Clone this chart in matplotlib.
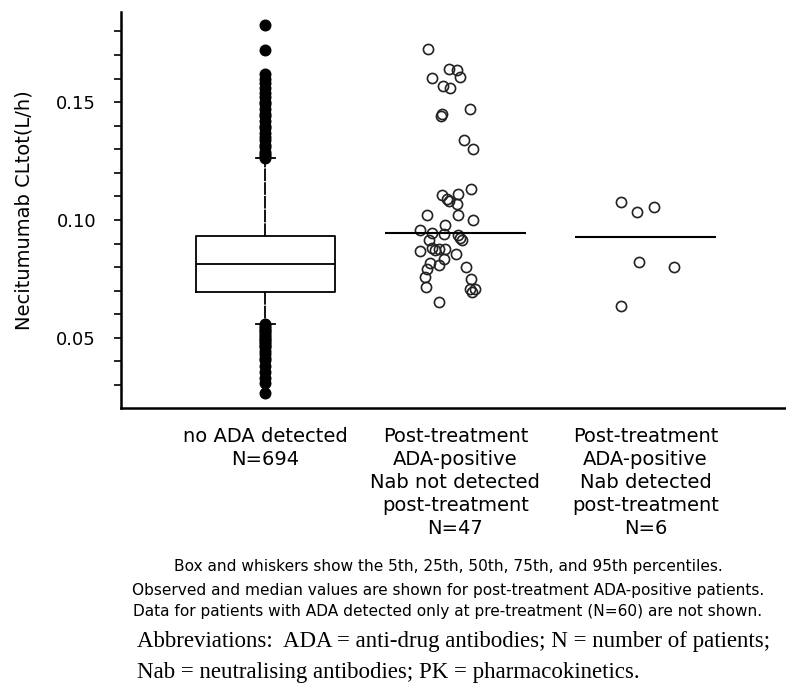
import numpy as np
import matplotlib
matplotlib.use("Agg")
import matplotlib.pyplot as plt
from matplotlib.ticker import FixedLocator

# group labels
categories = ["no ADA detected\nN=694",
              "Post-treatment\nADA-positive\nNab not detected\npost-treatment\nN=47",
              "Post-treatment\nADA-positive\nNab detected\npost-treatment\nN=6"]

# no ADA group: percentiles (5th, 25th, 50th, 75th, 95th) and points outside
no_ada_pct = [0.0557, 0.0694, 0.0813, 0.0932, 0.1262]
no_ada_high = [0.1828, 0.1721, 0.1619, 0.160, 0.158, 0.156, 0.154, 0.152, 0.150,
               0.149, 0.147, 0.145, 0.144, 0.142, 0.140, 0.139, 0.137, 0.135,
               0.134, 0.132, 0.131, 0.129, 0.128, 0.127, 0.1262]
no_ada_low = [0.0557, 0.055, 0.0543, 0.0535, 0.0528, 0.052, 0.0512, 0.0505,
              0.0497, 0.049, 0.0482, 0.0475, 0.0467, 0.046, 0.0445, 0.043,
              0.0415, 0.0404, 0.038, 0.0353, 0.033, 0.031, 0.0264]

nab_neg = [0.1726, 0.1602, 0.1640, 0.1637, 0.1605, 0.1569, 0.1560, 0.1442, 0.1449,
           0.1470, 0.1340, 0.1303, 0.1133, 0.1106, 0.1087, 0.1080, 0.1109, 0.1066,
           0.1020, 0.1019, 0.1000, 0.0980, 0.0957, 0.0944, 0.0939, 0.0937, 0.0922,
           0.0915, 0.0915, 0.0867, 0.0880, 0.0872, 0.0875, 0.0875, 0.0854, 0.0833,
           0.0811, 0.0816, 0.0790, 0.0759, 0.0801, 0.0748, 0.0716, 0.0709, 0.0705,
           0.0695, 0.0654]
nab_neg_jit = [-0.146, -0.123, -0.032, 0.009, 0.026, -0.065, -0.026, -0.074, -0.070,
               0.079, 0.044, 0.093, 0.083, -0.070, -0.044, -0.035, 0.012, 0.009,
               0.012, -0.149, 0.093, -0.053, -0.189, -0.123, -0.058, 0.012, 0.026,
               0.035, -0.141, -0.188, -0.123, -0.105, -0.088, -0.053, 0.005, -0.062,
               -0.088, -0.132, -0.149, -0.158, 0.058, 0.083, -0.154, 0.079, 0.105,
               0.088, -0.088]

# Nab detected (N=6)
nab_pos = [0.1078, 0.1035, 0.1057, 0.0823, 0.0801, 0.0634]
nab_pos_jit = [-0.128, -0.044, 0.044, -0.035, 0.153, -0.126]

footnotes = ["Box and whiskers show the 5th, 25th, 50th, 75th, and 95th percentiles.",
             "Observed and median values are shown for post-treatment ADA-positive patients.",
             "Data for patients with ADA detected only at pre-treatment (N=60) are not shown."]
abbrev = ["Abbreviations:  ADA = anti-drug antibodies; N = number of patients;",
          "Nab = neutralising antibodies; PK = pharmacokinetics."]

fig = plt.figure(figsize=(7.86, 6.83), dpi=100)
ax = fig.add_axes([0.154, 0.4026, 0.846, 0.58])

stats = [dict(whislo=no_ada_pct[0], q1=no_ada_pct[1], med=no_ada_pct[2],
              q3=no_ada_pct[3], whishi=no_ada_pct[4],
              fliers=np.array(no_ada_high + no_ada_low))]
ax.bxp(stats, positions=[1], widths=0.73,
       boxprops=dict(color="black", lw=1.3),
       medianprops=dict(color="black", lw=1.3),
       whiskerprops=dict(color="black", lw=1.3, linestyle=(0, (7, 0.6))),
       capprops=dict(color="black", lw=1.3), capwidths=0.1,
       flierprops=dict(marker="o", markerfacecolor="black", markeredgecolor="black",
                       markersize=7.6, linestyle="none"))

ax.plot(2 + np.array(nab_neg_jit), nab_neg, "o", mfc="none", mec="#222222",
        ms=7.3, mew=1.2)
ax.plot(3 + np.array(nab_pos_jit), nab_pos, "o", mfc="none", mec="#222222",
        ms=7.3, mew=1.2)
ax.hlines([np.median(nab_neg), np.median(nab_pos)], [2 - 0.37, 3 - 0.37],
          [2 + 0.37, 3 + 0.37], color="black", lw=1.5)

ax.set_xlim(0.24, 3.74)
ax.set_ylim(0.0202, 0.1883)
ax.set_xticks([1, 2, 3])
ax.set_xticklabels(categories, fontsize=14, linespacing=1.26)
ax.tick_params(axis="x", length=0, pad=14)
ax.yaxis.set_major_locator(FixedLocator([0.05, 0.10, 0.15]))
ax.yaxis.set_minor_locator(FixedLocator([0.03, 0.04, 0.06, 0.07, 0.08, 0.09, 0.11,
                                         0.12, 0.13, 0.14, 0.16, 0.17, 0.18]))
ax.set_yticklabels(["0.05", "0.10", "0.15"])
ax.tick_params(axis="y", which="both", length=5, width=1.2, labelsize=13, pad=13)
ax.set_ylabel("Necitumumab CLtot(L/h)", fontsize=14, labelpad=16)
for s in ["top", "right"]:
    ax.spines[s].set_visible(False)
for s in ["left", "bottom"]:
    ax.spines[s].set_linewidth(1.8)

ys = [0.170, 0.135, 0.104]
for t, y in zip(footnotes, ys):
    fig.text(0.57, y, t, ha="center", va="center", fontsize=11.1)
for t, y in zip(abbrev, [0.061, 0.016]):
    fig.text(0.174, y, t, ha="left", va="center", fontsize=16.5,
             family="Liberation Serif")

fig.savefig("out.png", dpi=100)
